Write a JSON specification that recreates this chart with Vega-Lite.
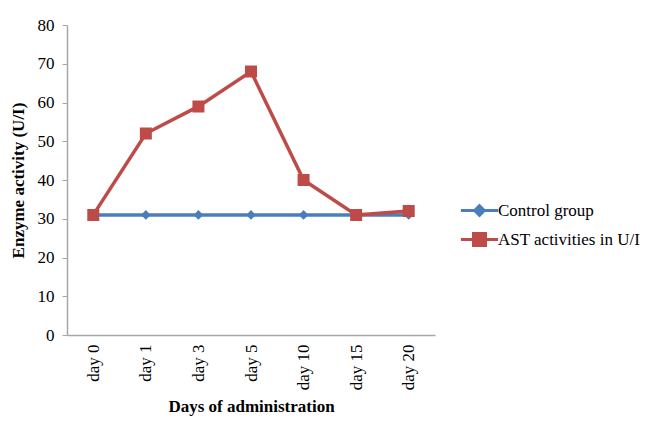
{
  "$schema": "https://vega.github.io/schema/vega-lite/v6.json",
  "autosize": "none",
  "width": 368,
  "height": 310,
  "padding": {"left": 67, "top": 25, "right": 211, "bottom": 90},
  "background": "white",
  "config": {
    "view": {"stroke": null},
    "font": "Liberation Serif",
    "axis": {
      "labelFont": "Liberation Serif",
      "labelFontSize": 17,
      "labelColor": "black",
      "titleFont": "Liberation Serif",
      "titleFontSize": 17,
      "titleFontWeight": "bold",
      "titleColor": "black",
      "domainColor": "#a6a6a6",
      "domainWidth": 1.5,
      "tickColor": "#a6a6a6",
      "grid": false
    },
    "legend": {
      "labelFont": "Liberation Serif",
      "labelFontSize": 17,
      "labelColor": "black",
      "symbolSize": 576,
      "symbolStrokeWidth": 3,
      "labelOffset": 5,
      "rowPadding": 4,
      "padding": 0
    }
  },
  "data": {
    "values": [
      {"day": "day 0", "series": "Control group", "value": 31},
      {"day": "day 1", "series": "Control group", "value": 31},
      {"day": "day 3", "series": "Control group", "value": 31},
      {"day": "day 5", "series": "Control group", "value": 31},
      {"day": "day 10", "series": "Control group", "value": 31},
      {"day": "day 15", "series": "Control group", "value": 31},
      {"day": "day 20", "series": "Control group", "value": 31},
      {"day": "day 0", "series": "AST activities in U/I", "value": 31},
      {"day": "day 1", "series": "AST activities in U/I", "value": 52},
      {"day": "day 3", "series": "AST activities in U/I", "value": 59},
      {"day": "day 5", "series": "AST activities in U/I", "value": 68},
      {"day": "day 10", "series": "AST activities in U/I", "value": 40},
      {"day": "day 15", "series": "AST activities in U/I", "value": 31},
      {"day": "day 20", "series": "AST activities in U/I", "value": 32}
    ]
  },
  "encoding": {
    "x": {
      "field": "day",
      "type": "ordinal",
      "sort": ["day 0", "day 1", "day 3", "day 5", "day 10", "day 15", "day 20"],
      "scale": {"type": "point", "padding": 0.5},
      "axis": {
        "title": "Days of administration",
        "labelAngle": -90,
        "ticks": false,
        "labelPadding": 9,
        "titlePadding": 9
      }
    },
    "y": {
      "field": "value",
      "type": "quantitative",
      "scale": {"domain": [0, 80], "nice": false},
      "axis": {
        "title": "Enzyme activity (U/I)",
        "values": [0, 10, 20, 30, 40, 50, 60, 70, 80],
        "tickSize": 5,
        "labelPadding": 8,
        "titlePadding": 10
      }
    },
    "color": {
      "field": "series",
      "type": "nominal",
      "scale": {
        "domain": ["Control group", "AST activities in U/I"],
        "range": ["#4A7EBB", "#BE4B48"]
      },
      "legend": {
        "title": null,
        "orient": "none",
        "legendX": 399,
        "legendY": 172,
        "symbolSize": 576,
        "symbolStrokeWidth": 3,
        "labelFontSize": 17,
        "labelOffset": 5,
        "rowPadding": 4
      }
    }
  },
  "layer": [
    {
      "mark": {"type": "line", "strokeWidth": 3.5},
      "encoding": {
        "detail": {"field": "series"}
      }
    },
    {
      "mark": {"type": "point", "filled": true, "opacity": 1, "size": 576, "strokeWidth": 0},
      "encoding": {
        "shape": {
          "field": "series",
          "type": "nominal",
          "scale": {
            "domain": ["Control group", "AST activities in U/I"],
            "range": [
              "M-1.55,0H1.55M0,-0.4L0.4,0L0,0.4L-0.4,0Z",
              "M-1.55,0H1.55M-0.5,-0.5H0.5V0.5H-0.5Z"
            ]
          },
          "legend": {
            "title": null,
            "orient": "none",
            "legendX": 399,
            "legendY": 172,
            "symbolSize": 576,
            "symbolStrokeWidth": 3,
            "labelFontSize": 17,
            "labelOffset": 5,
            "rowPadding": 4
          }
        }
      }
    }
  ]
}
